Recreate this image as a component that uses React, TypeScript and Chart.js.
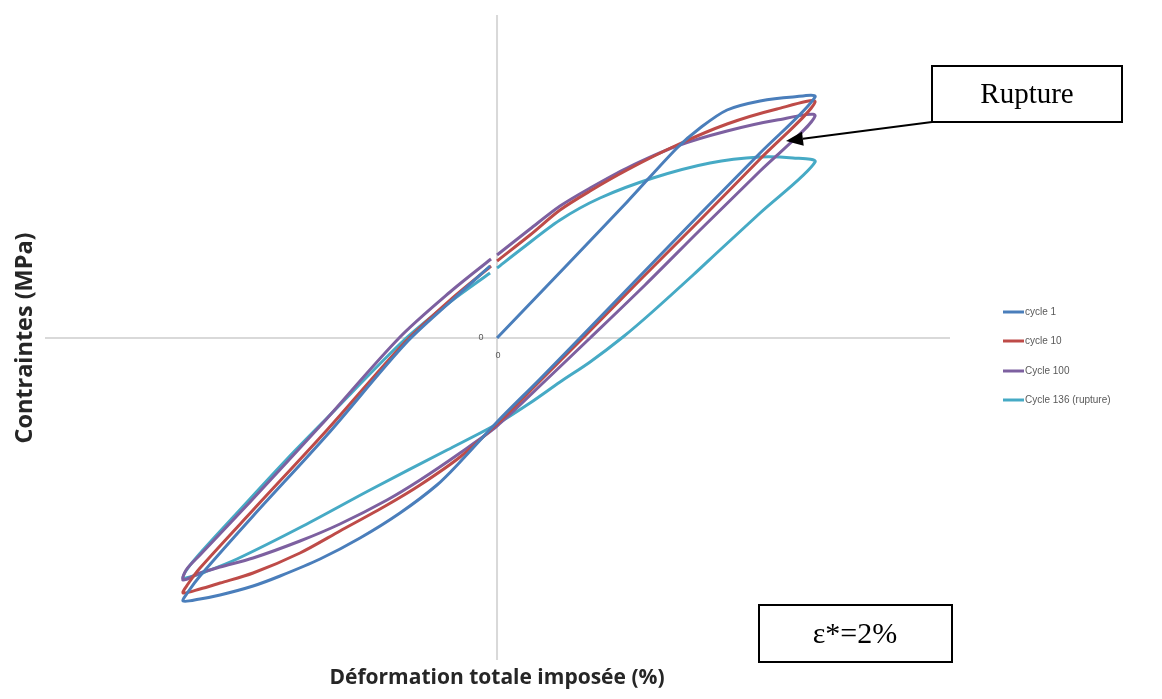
import React, { useEffect, useRef } from "react";
import { Chart, registerables } from "chart.js";

Chart.register(...registerables);

// Strain (%) and stress (MPa)
const strainCycle1 = [0, 0.443, 0.823, 1.139, 1.285, 1.456, 1.665, 1.873, 2.013, 1.665, 1.285, 0.905, 0.525, 0.272, 0, -0.234, -0.38, -0.614, -0.867, -1.12, -1.373, -1.544, -1.753, -1.88, -1.987, -1.956, -1.88, -1.544, -1.076, -0.582, -0.297, -0.044];
const stressCycle1 = [0, 73, 136, 190, 210, 228, 237, 241, 241, 185, 124, 62, 0, -41, -84, -124, -147, -175, -200, -221, -238, -248, -257, -261, -263, -254, -238, -178, -97, -6, 36, 72];

const strainCycle10 = [0, 0.209, 0.399, 0.589, 0.823, 1.139, 1.456, 1.772, 2.013, 1.665, 1.285, 0.905, 0.544, 0.272, 0, -0.234, -0.487, -0.696, -0.994, -1.247, -1.544, -1.753, -1.88, -1.987, -1.956, -1.88, -1.544, -1.076, -0.582, -0.297, -0.038];
const stressCycle10 = [77, 103, 128, 147, 168, 193, 214, 229, 236, 179, 118, 58, 0, -43, -86, -119, -147, -167, -193, -215, -235, -245, -251, -255, -246, -230, -172, -92, -4, 38, 72];

const strainCycle100 = [0, 0.209, 0.399, 0.589, 0.823, 1.139, 1.456, 1.772, 2.013, 1.665, 1.285, 0.937, 0.589, 0.304, 0, -0.234, -0.487, -0.696, -0.994, -1.247, -1.544, -1.753, -1.88, -1.987, -1.968, -1.88, -1.563, -1.108, -0.62, -0.297, -0.038];
const stressCycle100 = [83, 109, 132, 150, 170, 192, 207, 218, 222, 167, 108, 53, 0, -43, -88, -115, -142, -162, -186, -203, -220, -229, -235, -242, -232, -217, -164, -86, 0, 46, 79];

const strainCycle136 = [0, 0.146, 0.399, 0.652, 0.987, 1.348, 1.665, 1.873, 2.013, 1.665, 1.411, 1.241, 0.968, 0.797, 0.589, 0.399, 0.209, 0, -0.316, -0.804, -1.228, -1.646, -1.848, -1.943, -1.987, -1.956, -1.861, -1.646, -1.329, -1.057, -0.601, -0.297, -0.044];
const stressCycle136 = [70, 88, 118, 140, 160, 175, 181, 180, 176, 125, 88, 63, 24, 1, -24, -44, -65, -86, -112, -152, -188, -221, -234, -239, -240, -230, -212, -175, -121, -77, -4, 36, 65];

const seriesLabels = ["cycle 1", "cycle 10", "Cycle 100", "Cycle 136 (rupture)"];
const seriesColors = ["#4A7EBB", "#BE4B48", "#7D60A0", "#46AAC5"];
const seriesStrain = [strainCycle1, strainCycle10, strainCycle100, strainCycle136];
const seriesStress = [stressCycle1, stressCycle10, stressCycle100, stressCycle136];

const xTitle = "Déformation totale imposée (%)";
const yTitle = "Contraintes (MPa)";
const ruptureText = "Rupture";
const epsText = "ε*=2%";

export default function App() {
  const ref = useRef<HTMLCanvasElement>(null);

  useEffect(() => {
    const canvas = ref.current;
    if (!canvas) return;

    const fitFont = (ctx: CanvasRenderingContext2D, text: string, target: number, weight: string, family: string) => {
      ctx.font = `${weight} 20px ${family}`;
      const w = ctx.measureText(text).width;
      const size = (20 * target) / w;
      return `${weight} ${size.toFixed(2)}px ${family}`;
    };

    const decor = {
      id: "decor",
      beforeDatasetsDraw(chart: any) {
        const ctx = chart.ctx as CanvasRenderingContext2D;
        const { chartArea, scales } = chart;
        const x0 = scales.x.getPixelForValue(0);
        const y0 = scales.y.getPixelForValue(0);
        ctx.save();
        ctx.strokeStyle = "#d9d9d9";
        ctx.lineWidth = 2;
        ctx.beginPath();
        ctx.moveTo(chartArea.left, y0);
        ctx.lineTo(chartArea.right, y0);
        ctx.moveTo(x0, chartArea.top);
        ctx.lineTo(x0, chartArea.bottom);
        ctx.stroke();
        ctx.fillStyle = "#595959";
        ctx.font = '9px "Liberation Sans"';
        ctx.textAlign = "center";
        ctx.textBaseline = "middle";
        ctx.fillText("0", x0 - 16, y0);
        ctx.fillText("0", x0 + 1, y0 + 18);
        ctx.restore();
      },
      afterDraw(chart: any) {
        const ctx = chart.ctx as CanvasRenderingContext2D;
        ctx.save();
        // axis titles
        ctx.fillStyle = "#262626";
        ctx.textAlign = "center";
        ctx.textBaseline = "middle";
        ctx.font = fitFont(ctx, xTitle, 335, "bold", '"Open Sans"');
        ctx.fillText(xTitle, 497, 678);
        ctx.save();
        ctx.translate(25, 338);
        ctx.rotate(-Math.PI / 2);
        ctx.font = fitFont(ctx, yTitle, 211, "bold", '"Open Sans"');
        ctx.fillText(yTitle, 0, 0);
        ctx.restore();

        // legend
        const legendY = [312, 341, 371, 400];
        ctx.textAlign = "left";
        ctx.font = '10px "Liberation Sans"';
        seriesLabels.forEach((lab, i) => {
          ctx.strokeStyle = seriesColors[i];
          ctx.lineWidth = 3;
          ctx.beginPath();
          ctx.moveTo(1003, legendY[i]);
          ctx.lineTo(1024, legendY[i]);
          ctx.stroke();
          ctx.fillStyle = "#595959";
          ctx.fillText(lab, 1025, legendY[i]);
        });

        // Rupture box
        ctx.strokeStyle = "#000";
        ctx.lineWidth = 2;
        ctx.strokeRect(932, 66, 190, 56);
        ctx.fillStyle = "#000";
        ctx.textAlign = "center";
        ctx.font = '29px "Liberation Serif"';
        ctx.fillText(ruptureText, 1027, 95);

        // epsilon box
        ctx.strokeRect(759, 605, 193, 57);
        ctx.font = '30px "Liberation Serif"';
        ctx.fillText(epsText, 855, 635);

        // arrow
        const sx = 932, sy = 122, tx = 786, ty = 141;
        const ang = Math.atan2(ty - sy, tx - sx);
        const headLen = 17, headW = 7;
        const bx = tx - headLen * Math.cos(ang), by = ty - headLen * Math.sin(ang);
        ctx.lineWidth = 2;
        ctx.beginPath();
        ctx.moveTo(sx, sy);
        ctx.lineTo(bx, by);
        ctx.stroke();
        ctx.beginPath();
        ctx.moveTo(tx, ty);
        ctx.lineTo(bx + headW * Math.sin(ang), by - headW * Math.cos(ang));
        ctx.lineTo(bx - headW * Math.sin(ang), by + headW * Math.cos(ang));
        ctx.closePath();
        ctx.fill();
        ctx.restore();
      },
    };

    const chart = new Chart(canvas, {
      type: "line",
      data: {
        datasets: seriesLabels.map((lab, i) => ({
          label: lab,
          data: seriesStrain[i].map((x, j) => ({ x, y: seriesStress[i][j] })),
          borderColor: seriesColors[i],
          backgroundColor: seriesColors[i],
          borderWidth: 3,
          pointRadius: 0,
          tension: 0.3,
          fill: false,
        })),
      },
      options: {
        responsive: false,
        animation: false,
        layout: { padding: { left: 45, right: 212, top: 15, bottom: 39 } },
        plugins: { legend: { display: false }, tooltip: { enabled: false } },
        scales: {
          x: { type: "linear", min: -2.861, max: 2.867, display: false },
          y: { type: "linear", min: -322, max: 323, display: false },
        },
      },
      plugins: [decor],
    });
    return () => chart.destroy();
  }, []);

  return (
    <div style={{ position: "absolute", left: 0, top: 0, width: 1162, height: 699 }}>
      <canvas ref={ref} width={1162} height={699} />
    </div>
  );
}
